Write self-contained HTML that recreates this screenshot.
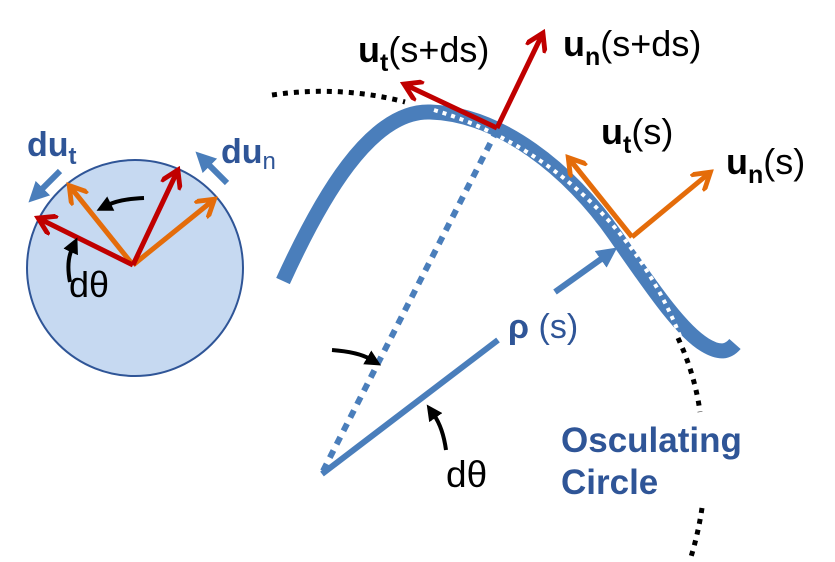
<!DOCTYPE html>
<html><head><meta charset="utf-8"><style>
html,body{margin:0;padding:0;background:#fff;}
svg{display:block;}
text{font-family:"Liberation Sans",sans-serif;}
</style></head><body>
<svg width="835" height="562" viewBox="0 0 835 562" xmlns="http://www.w3.org/2000/svg">
<defs>
<marker id="ar" viewBox="0 0 10 10" refX="6" refY="5" markerWidth="4.4" markerHeight="4.4" orient="auto"><path d="M0,0 L8,5 L0,10" fill="none" stroke="#c00000" stroke-width="2.2"/></marker>
<marker id="ao" viewBox="0 0 10 10" refX="6" refY="5" markerWidth="4.4" markerHeight="4.4" orient="auto"><path d="M0,0 L8,5 L0,10" fill="none" stroke="#e46c0a" stroke-width="2.2"/></marker>
<marker id="ab" viewBox="0 0 10 10" refX="2" refY="5" markerWidth="3.4" markerHeight="3.4" orient="auto"><path d="M0,0 L10,5 L0,10 z" fill="#4a7ebb"/></marker>
<marker id="ak" viewBox="0 0 10 10" refX="2" refY="5" markerWidth="4" markerHeight="4" orient="auto"><path d="M0,0 L10,5 L0,10 z" fill="#000"/></marker>
</defs>

<circle cx="135" cy="268" r="108" fill="#c6d9f1" stroke="#2f5597" stroke-width="2"/>
<line x1="133" y1="265" x2="72" y2="189" stroke="#e46c0a" stroke-width="5" marker-end="url(#ao)"/>
<line x1="133" y1="265" x2="211" y2="202" stroke="#e46c0a" stroke-width="5" marker-end="url(#ao)"/>
<line x1="133" y1="265" x2="176" y2="174" stroke="#c00000" stroke-width="5" marker-end="url(#ar)"/>
<line x1="133" y1="265" x2="42" y2="220" stroke="#c00000" stroke-width="5" marker-end="url(#ar)"/>
<path d="M144,198 Q120,199 108,205" fill="none" stroke="#000" stroke-width="4" marker-end="url(#ak)"/>
<path d="M70,282 Q66,262 72,249" fill="none" stroke="#000" stroke-width="4" marker-end="url(#ak)"/>
<text x="69" y="297" font-size="36">dθ</text>
<line x1="60" y1="171" x2="40" y2="191" stroke="#4a7ebb" stroke-width="6" marker-end="url(#ab)"/>
<line x1="227" y1="183" x2="207" y2="163" stroke="#4a7ebb" stroke-width="6" marker-end="url(#ab)"/>
<text x="27" y="156" font-size="34" font-weight="bold" fill="#2f5597">du<tspan font-size="24" dy="8">t</tspan></text>
<text x="221" y="163" font-size="34" font-weight="bold" fill="#2f5597">du<tspan font-size="24" dy="6" font-weight="normal">n</tspan></text>

<path d="M272,95 Q340,85 405,102" fill="none" stroke="#000" stroke-width="5" stroke-dasharray="5,6"/>
<path d="M678,338 Q695,375 700,412" fill="none" stroke="#000" stroke-width="5" stroke-dasharray="5,6"/>
<path d="M702,508 Q698,535 690,560" fill="none" stroke="#000" stroke-width="5" stroke-dasharray="5,6"/>

<path d="M283,281 C320,200 370,110 430,112 C500,114 570,170 615,235 C650,285 680,330 705,345 C720,354 728,352 735,344" fill="none" stroke="#4a7ebb" stroke-width="15"/>
<path d="M432,104 A382,382 0 0 1 678,330" fill="none" stroke="#fff" stroke-width="4" stroke-dasharray="4,5" transform="translate(2,6)"/>

<line x1="323" y1="471" x2="497" y2="130" stroke="#4a7ebb" stroke-width="6" stroke-dasharray="8,7"/>
<line x1="322" y1="474" x2="498" y2="340" stroke="#4a7ebb" stroke-width="6"/>
<line x1="555" y1="292" x2="604" y2="257" stroke="#4a7ebb" stroke-width="6" marker-end="url(#ab)"/>
<text x="508" y="338" font-size="34" fill="#2f5597"><tspan font-weight="bold">ρ</tspan> (s)</text>

<path d="M332,350 Q358,352 370,359" fill="none" stroke="#000" stroke-width="4" marker-end="url(#ak)"/>
<path d="M446,450 Q443,428 434,415" fill="none" stroke="#000" stroke-width="4" marker-end="url(#ak)"/>
<text x="446" y="487" font-size="37">dθ</text>

<line x1="497" y1="128" x2="408" y2="86" stroke="#c00000" stroke-width="5" marker-end="url(#ar)"/>
<line x1="497" y1="128" x2="541" y2="37" stroke="#c00000" stroke-width="5" marker-end="url(#ar)"/>
<line x1="632" y1="237" x2="571" y2="161" stroke="#e46c0a" stroke-width="5" marker-end="url(#ao)"/>
<line x1="632" y1="237" x2="707" y2="175" stroke="#e46c0a" stroke-width="5" marker-end="url(#ao)"/>

<text x="358" y="62" font-size="36"><tspan font-weight="bold">u</tspan><tspan font-weight="bold" font-size="25" dy="9">t</tspan><tspan dy="-9">(s+ds)</tspan></text>
<text x="563" y="56" font-size="36"><tspan font-weight="bold">u</tspan><tspan font-weight="bold" font-size="25" dy="9">n</tspan><tspan dy="-9">(s+ds)</tspan></text>
<text x="601" y="144" font-size="36"><tspan font-weight="bold">u</tspan><tspan font-weight="bold" font-size="25" dy="9">t</tspan><tspan dy="-9">(s)</tspan></text>
<text x="726" y="174" font-size="36"><tspan font-weight="bold">u</tspan><tspan font-weight="bold" font-size="25" dy="9">n</tspan><tspan dy="-9">(s)</tspan></text>

<text x="561" y="452" font-size="35" font-weight="bold" fill="#2f5597">Osculating</text>
<text x="561" y="494" font-size="35" font-weight="bold" fill="#2f5597">Circle</text>
</svg>
</body></html>
